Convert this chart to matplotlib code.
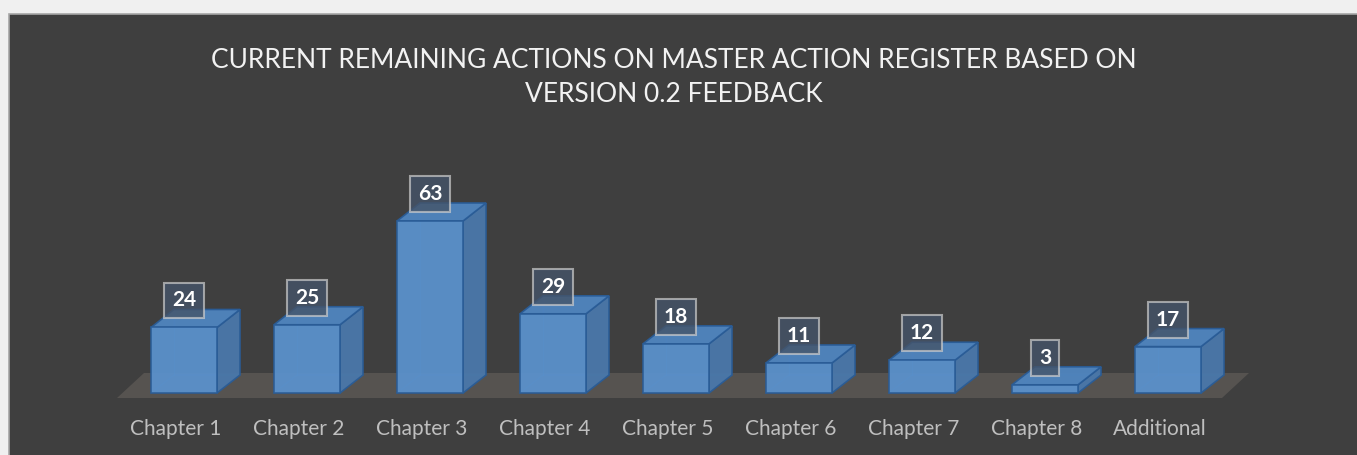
import matplotlib.pyplot as plt
from matplotlib.patches import Polygon, Rectangle

# chart data
categories = ['Chapter 1', 'Chapter 2', 'Chapter 3', 'Chapter 4', 'Chapter 5',
              'Chapter 6', 'Chapter 7', 'Chapter 8', 'Additional']
values = [24, 25, 63, 29, 18, 11, 12, 3, 17]
title = 'CURRENT REMAINING ACTIONS ON MASTER ACTION REGISTER BASED ON\nVERSION 0.2 FEEDBACK'

font = ['Lato', 'DejaVu Sans']

# colours
panel_col = '#3f3f3f'
floor_col = '#565350'
front_col = '#5b93cf'
side_col = '#4a78aa'
top_col = '#4f85c0'
edge_col = '#2a5c96'

# pixel scale of the original (x: px per category, y: px per unit)
px_x = 123.0
px_y = 2.73
W, H = 1357, 455

fig = plt.figure(figsize=(W / 100, H / 100), dpi=100)
fig.patch.set_facecolor('#f0f0f0')

# dark panel
fig.patches.append(Rectangle((9 / W, -0.01), 1.0, 1 - 14 / H + 0.01,
                             transform=fig.transFigure, facecolor=panel_col,
                             edgecolor='#a6a6a6', linewidth=1.2, zorder=0))

ax = fig.add_axes([0, 0, 1, 1])
ax.set_zorder(1)
ax.set_facecolor('none')
ax.axis('off')
# place category 0 at pixel 184, value 0 at pixel row 393
ax.set_xlim(-184 / px_x, (W - 184) / px_x)
ax.set_ylim(-(H - 393) / px_y, 393 / px_y)

bw = 66 / px_x / 2          # half width of the bar front
ddx = 23 / px_x             # depth offset
ddy = 18 / px_y

# floor
fy0 = -5 / px_y
fdx, fdy = 27 / px_x, 25 / px_y
fx0, fx1 = -67 / px_x, len(categories) - 1 + 54 / px_x
ax.add_patch(Polygon([(fx0, fy0), (fx1, fy0), (fx1 + fdx, fy0 + fdy), (fx0 + fdx, fy0 + fdy)],
                     closed=True, facecolor=floor_col, edgecolor='none', zorder=1))

for i, (cat, v) in enumerate(zip(categories, values)):
    l, r = i - bw, i + bw
    # hidden back edges seen through the glassy bar
    ax.plot([l + ddx, l + ddx, r + ddx], [ddy, v + ddy, v + ddy], color=edge_col, lw=0.8, alpha=0.5, zorder=2)
    ax.plot([l, l + ddx, r + ddx], [0, ddy, ddy], color=edge_col, lw=0.8, alpha=0.5, zorder=2)
    side = [(r, 0), (r + ddx, ddy), (r + ddx, v + ddy), (r, v)]
    top = [(l, v), (r, v), (r + ddx, v + ddy), (l + ddx, v + ddy)]
    front = [(l, 0), (r, 0), (r, v), (l, v)]
    ax.add_patch(Polygon(side, closed=True, facecolor=side_col, edgecolor=edge_col, lw=1.2, alpha=0.95, zorder=3))
    ax.add_patch(Polygon(top, closed=True, facecolor=top_col, edgecolor=edge_col, lw=1.2, alpha=0.95, zorder=3))
    ax.add_patch(Polygon(front, closed=True, facecolor=front_col, edgecolor=edge_col, lw=1.2, alpha=0.92, zorder=4))

    ax.text(i, v + 27 / px_y, str(v), ha='center', va='center', color='white',
            fontsize=15, fontweight='bold', family=font, zorder=6,
            bbox=dict(boxstyle='square,pad=0.38', facecolor=(0.27, 0.33, 0.41, 0.8),
                      edgecolor=(0.8, 0.8, 0.8, 0.7), linewidth=1.5))
    ax.text(i - 8 / px_x, -36 / px_y, cat, ha='center', va='center', color='#bfbfbf',
            fontsize=15, family=font, zorder=6)

fig.text(674 / W, 1 - 77 / H, title, ha='center', va='center', color='#f2f2f2',
         fontsize=19, family=font, linespacing=1.45)

fig.savefig('out.png', dpi=100, facecolor=fig.get_facecolor())
